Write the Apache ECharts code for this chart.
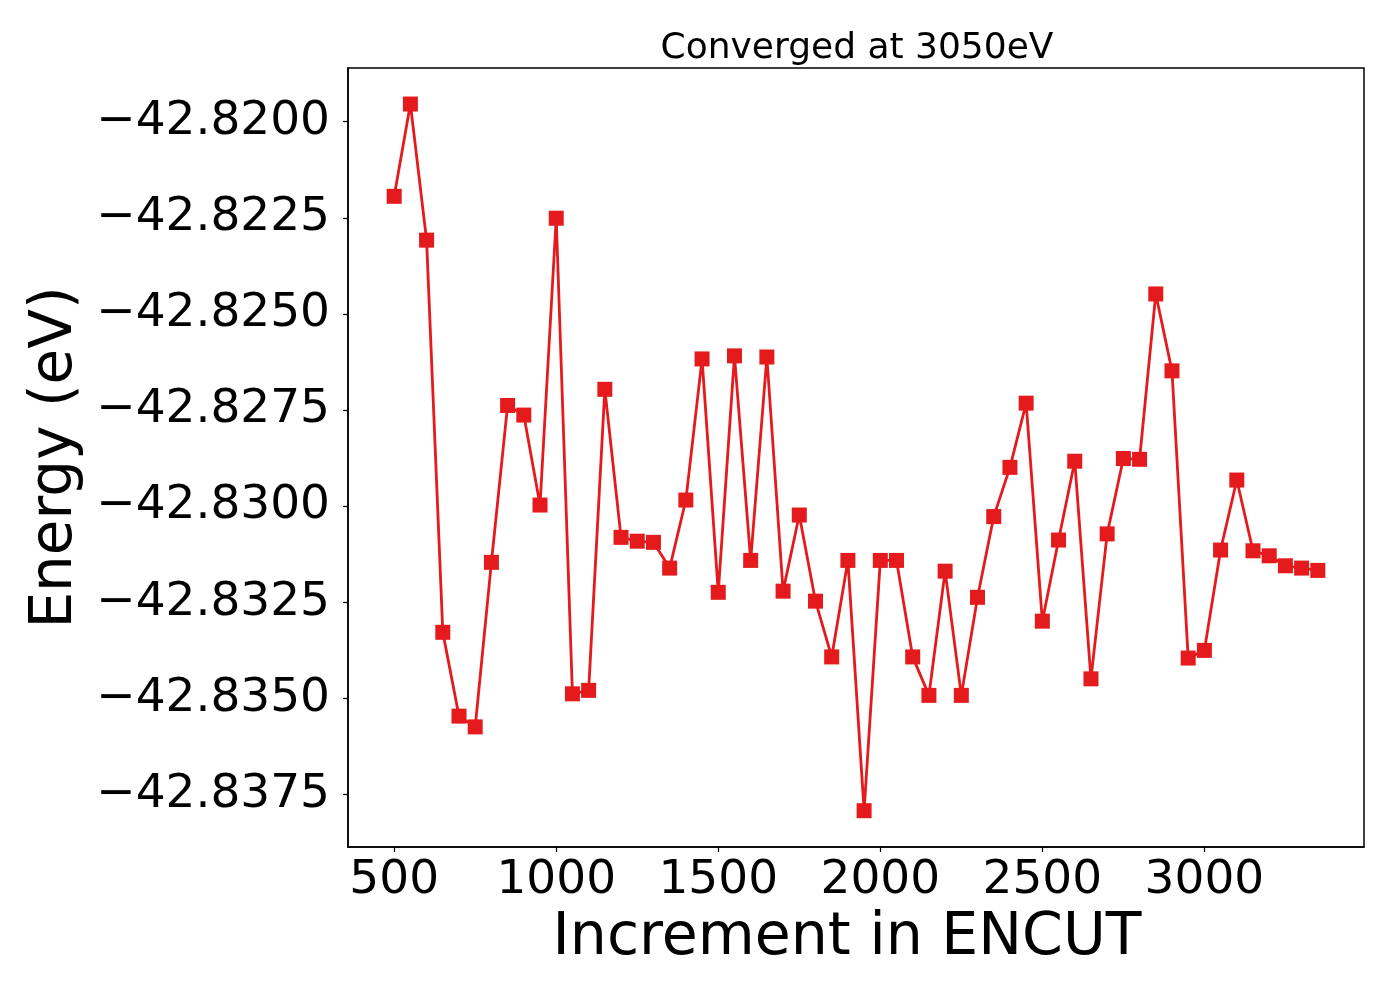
<!DOCTYPE html>
<html>
<head>
<meta charset="utf-8">
<script src="https://cdn.jsdelivr.net/npm/echarts@6/dist/echarts.min.js"></script>
<style>
  html, body { margin: 0; padding: 0; background: #fff; }
  #chart { width: 1400px; height: 1000px; }
</style>
</head>
<body>
<div id="chart"></div>
<script>
const encut = [500,550,600,650,700,750,800,850,900,950,1000,1050,1100,1150,1200,1250,1300,1350,1400,1450,1500,1550,1600,1650,1700,1750,1800,1850,1900,1950,2000,2050,2100,2150,2200,2250,2300,2350,2400,2450,2500,2550,2600,2650,2700,2750,2800,2850,2900,2950,3000,3050,3100,3150,3200,3250,3300,3350];
const energy = [-42.82194,-42.81954,-42.82308,-42.83328,-42.83546,-42.83574,-42.83146,-42.82738,-42.82763,-42.82997,-42.82251,-42.83488,-42.83479,-42.82696,-42.83081,-42.83091,-42.83094,-42.83161,-42.82984,-42.82617,-42.83224,-42.82609,-42.83141,-42.82612,-42.83221,-42.83023,-42.83247,-42.83392,-42.83141,-42.83792,-42.83141,-42.83141,-42.83392,-42.83492,-42.83169,-42.83492,-42.83237,-42.83027,-42.82899,-42.82732,-42.83299,-42.83088,-42.82883,-42.83449,-42.83072,-42.82876,-42.82878,-42.82448,-42.82648,-42.83395,-42.83375,-42.83114,-42.82932,-42.83116,-42.83129,-42.83155,-42.83161,-42.83167];
const xTicks = [500,1000,1500,2000,2500,3000];
const yTicks = [-42.8375,-42.835,-42.8325,-42.83,-42.8275,-42.825,-42.8225,-42.82];
const titleText = 'Converged at 3050eV';
const xName = 'Increment in ENCUT';
const yName = 'Energy (eV)';

const FONT = 'DejaVu Sans';
const chart = echarts.init(document.getElementById('chart'), null, {renderer: 'canvas'});
chart.setOption({
  animation: false,
  backgroundColor: '#ffffff',
  title: {
    text: titleText,
    left: 852,
    textAlign: 'center',
    top: 26,
    textStyle: {fontFamily: FONT, fontSize: 36, fontWeight: 'normal', color: '#000'}
  },
  grid: {
    left: 348, right: 36, top: 68, bottom: 153,
    show: true, borderColor: '#000', borderWidth: 1.5, backgroundColor: 'transparent'
  },
  xAxis: {
    type: 'value',
    min: 357.5, max: 3492.5,
    name: xName,
    nameLocation: 'middle',
    nameGap: 59,
    nameTextStyle: {fontFamily: FONT, fontSize: 58.5, color: '#000', padding: [0, 18, 0, 0]},
    axisLine: {show: true, lineStyle: {color: '#000', width: 1.5}},
    axisTick: {show: true, length: 5, inside: false, customValues: xTicks, lineStyle: {color: '#000', width: 1.2}},
    axisLabel: {
      customValues: xTicks, fontFamily: FONT, fontSize: 47, color: '#000', margin: 10,
      formatter: function (v) { return String(Math.round(v)); }
    },
    splitLine: {show: false}
  },
  yAxis: {
    type: 'value',
    min: -42.838864, max: -42.818603,
    name: yName,
    nameLocation: 'middle',
    nameRotate: 90,
    nameGap: 256,
    nameTextStyle: {fontFamily: FONT, fontSize: 58, color: '#000'},
    axisLine: {show: true, lineStyle: {color: '#000', width: 1.5}},
    axisTick: {show: true, length: 5, inside: false, customValues: yTicks, lineStyle: {color: '#000', width: 1.2}},
    axisLabel: {
      customValues: yTicks, fontFamily: FONT, fontSize: 47, color: '#000', margin: 18,
      formatter: function (v) { return (v < 0 ? '\u2212' : '') + Math.abs(v).toFixed(4); }
    },
    splitLine: {show: false}
  },
  series: [{
    type: 'line',
    data: encut.map((x, i) => [x, energy[i]]),
    symbol: 'rect',
    symbolSize: 15,
    showAllSymbol: true,
    lineStyle: {color: '#e41a1c', width: 2.8},
    itemStyle: {color: '#e41a1c', borderColor: '#e41a1c', borderWidth: 0},
    emphasis: {disabled: true}
  }]
});
</script>
</body>
</html>
